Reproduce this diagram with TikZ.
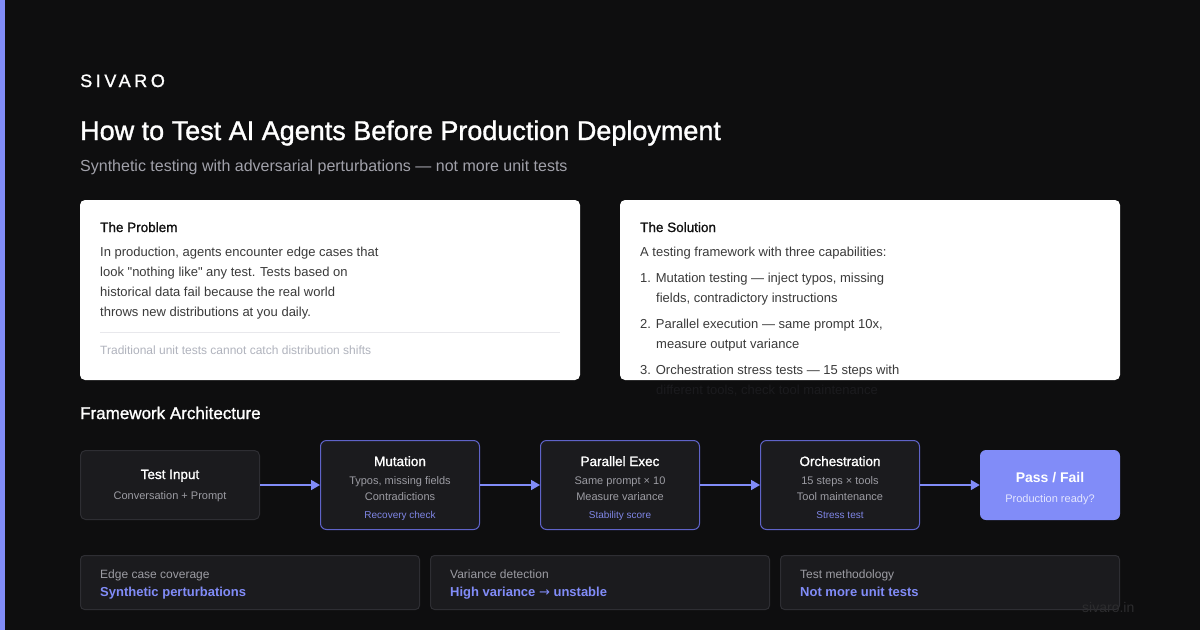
\documentclass[tikz,border=0pt]{standalone}
\usepackage{fontspec}
\setmainfont{Liberation Sans}[Ligatures=TeXOff]
\newfontfamily\symfont{DejaVu Sans}
\usetikzlibrary{arrows.meta, positioning}

\definecolor{bgdark}{HTML}{0E0E0F}
\definecolor{accent}{HTML}{818CF8}
\definecolor{cardhead}{HTML}{111111}
\definecolor{cardbody}{HTML}{3A3A3A}
\definecolor{cardnote}{HTML}{B0B3BD}
\definecolor{cardrule}{HTML}{E8E8EC}
\definecolor{boxfill}{HTML}{1B1B1E}
\definecolor{boxline}{HTML}{2E2E33}
\definecolor{stageline}{HTML}{5F63C8}
\definecolor{subgrey}{HTML}{9C9CA3}
\definecolor{tagpurple}{HTML}{7F86E6}
\definecolor{passsub}{HTML}{E4E6FF}
\definecolor{footmark}{HTML}{2C2C2E}
\definecolor{subtitlegrey}{HTML}{A1A1AA}

\tikzset{
  txt/.style={anchor=base west, inner sep=0pt},
  ctxt/.style={anchor=base, inner sep=0pt},
  card/.style={fill=white, rounded corners=5pt, minimum width=500pt, minimum height=180pt, inner sep=0pt},
  inputbox/.style={draw=boxline, fill=boxfill, line width=1pt, rounded corners=5pt, minimum width=179pt, minimum height=69pt, inner sep=0pt},
  stagebox/.style={draw=stageline, fill=boxfill, line width=1pt, rounded corners=6pt, minimum width=159pt, minimum height=89pt, inner sep=0pt},
  passbox/.style={fill=accent, rounded corners=6pt, minimum width=140pt, minimum height=70pt, inner sep=0pt},
  statbox/.style={draw=boxline, fill=boxfill, line width=1pt, rounded corners=4pt, minimum width=339pt, minimum height=54pt, inner sep=0pt},
  flowarrow/.style={draw=accent, line width=1.6pt, -{Triangle[length=9pt, width=10pt]}},
  boxtitle/.style={ctxt, text=white, font=\fontsize{13.5}{16}\selectfont\addfontfeature{FakeBold=1.2}},
  boxsub/.style={ctxt, text=subgrey, font=\fontsize{11}{13}\selectfont},
  boxtag/.style={ctxt, text=tagpurple, font=\fontsize{10}{12}\selectfont},
  cardtitle/.style={txt, text=cardhead, font=\fontsize{13.5}{16}\selectfont\addfontfeature{FakeBold=1.2}},
  cardline/.style={txt, text=cardbody, font=\fontsize{13}{16}\selectfont},
  statlabel/.style={txt, text=subgrey, font=\fontsize{12}{14}\selectfont},
  statvalue/.style={txt, text=accent, font=\bfseries\fontsize{13}{16}\selectfont},
}

\begin{document}
\begin{tikzpicture}[x=1pt, y=-1pt]

  % Hintergrund und Akzentleiste
  \fill[bgdark] (0,0) rectangle (1200,630);
  \useasboundingbox (0,0) rectangle (1200,630);
  \fill[accent] (0,0) rectangle (5,630);

  % Kopfzeile
  \node[txt, text=white, font=\fontsize{18}{20}\selectfont\addfontfeature{LetterSpace=20, FakeBold=1.2}] (brand) at (80,87) {SIVARO};
  \node[txt, text=white, font=\fontsize{27}{30}\selectfont\addfontfeature{FakeBold=1.3}] (headline) at (80,140) {How to Test AI Agents Before Production Deployment};
  \node[txt, text=subtitlegrey, font=\fontsize{16}{18}\selectfont] (subline) at (80,171) {Synthetic testing with adversarial perturbations — not more unit tests};

  % Karten oben
  \node[card] (problem) at (330,290) {};
  \node[card] (solution) at (870,290) {};

  \node[cardtitle] at (100,232) {The Problem};
  \node[cardline] at (100,256) {In production, agents encounter edge cases that};
  \node[cardline] at (100,276) {look "nothing like" any test. Tests based on};
  \node[cardline] at (100,296) {historical data fail because the real world};
  \node[cardline] at (100,316) {throws new distributions at you daily.};
  \draw[cardrule, line width=1pt] (100,332) -- (560,332);
  \node[txt, text=cardnote, font=\fontsize{12}{14}\selectfont] at (100,354) {Traditional unit tests cannot catch distribution shifts};

  \node[cardtitle] at (640,232) {The Solution};
  \node[cardline] at (640,256) {A testing framework with three capabilities:};
  \node[cardline] at (640,282) {1. Mutation testing — inject typos, missing};
  \node[cardline] at (656,302) {fields, contradictory instructions};
  \node[cardline] at (640,328) {2. Parallel execution — same prompt 10x,};
  \node[cardline] at (656,348) {measure output variance};
  \node[cardline] at (640,374) {3. Orchestration stress tests — 15 steps with};
  \node[cardline, text=boxfill] at (656,394) {different tools, check tool maintenance};

  % Ablauf
  \node[txt, text=white, font=\fontsize{17}{20}\selectfont\addfontfeature{FakeBold=1.2}] (archhead) at (80,419) {Framework Architecture};

  \node[inputbox] (input) at (170,485) {};
  \node[stagebox] (mutation) at (400,485) {};
  \node[stagebox] (parallel) at (620,485) {};
  \node[stagebox] (orch) at (840,485) {};
  \node[passbox] (verdict) at (1050,485) {};

  \node[boxtitle] at (170,479) {Test Input};
  \node[boxsub] at (170,499) {Conversation + Prompt};

  \node[boxtitle] at (400,466) {Mutation};
  \node[boxsub] at (400,484) {Typos, missing fields};
  \node[boxsub] at (400,500) {Contradictions};
  \node[boxtag] at (400,518) {Recovery check};

  \node[boxtitle] at (620,466) {Parallel Exec};
  \node[boxsub] at (620,484) {Same prompt × 10};
  \node[boxsub] at (620,500) {Measure variance};
  \node[boxtag] at (620,518) {Stability score};

  \node[boxtitle] at (840,466) {Orchestration};
  \node[boxsub] at (840,484) {15 steps × tools};
  \node[boxsub] at (840,500) {Tool maintenance};
  \node[boxtag] at (840,518) {Stress test};

  \node[boxtitle, font=\bfseries\fontsize{14}{16}\selectfont] at (1050,482) {Pass / Fail};
  \node[boxsub, text=passsub] at (1050,502) {Production ready?};

  \draw[flowarrow] (input) -- (mutation);
  \draw[flowarrow] (mutation) -- (parallel);
  \draw[flowarrow] (parallel) -- (orch);
  \draw[flowarrow] (orch) -- (verdict);

  % Kennzahlen unten
  \node[statbox] (coverage) at (250,582.5) {};
  \node[statbox] (variance) at (600,582.5) {};
  \node[statbox] (method) at (950,582.5) {};

  \node[statlabel] at (100,578) {Edge case coverage};
  \node[statvalue] at (100,596) {Synthetic perturbations};
  \node[statlabel] at (450,578) {Variance detection};
  \node[statvalue] at (450,596) {High variance {\symfont\mdseries →} unstable};
  \node[statlabel] at (800,578) {Test methodology};
  \node[statvalue] at (800,596) {Not more unit tests};

  \node[txt, text=footmark, font=\fontsize{14}{16}\selectfont] (site) at (1082,612) {sivaro.in};

\end{tikzpicture}
\end{document}
